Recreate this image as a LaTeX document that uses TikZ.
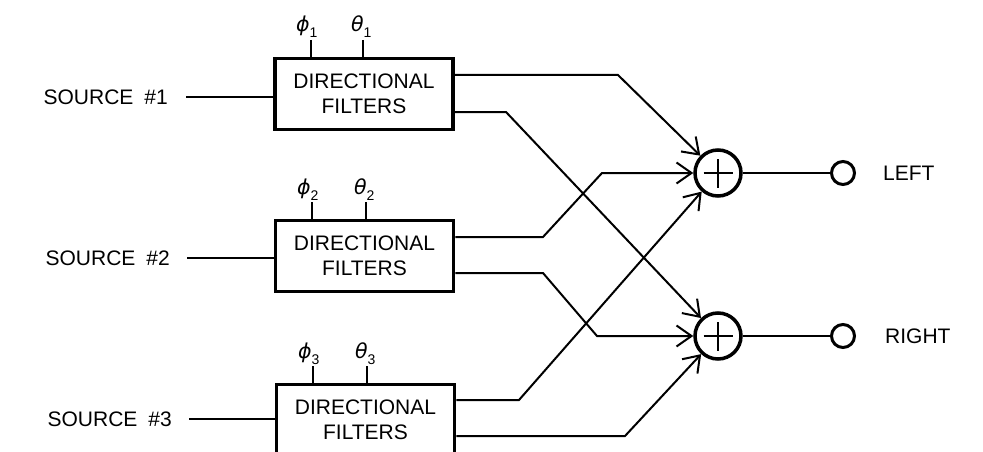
\documentclass[tikz,border=0pt]{standalone}
\usepackage{fontspec}
\setmainfont{Liberation Sans}
\newfontfamily\grk{DejaVu Sans}
\usetikzlibrary{arrows.meta}
\newcommand\anglbl[2]{{\grk\fontsize{20.5}{20.5}\selectfont\itshape #1}\raisebox{-6pt}{\fontsize{14}{14}\selectfont #2}}
\begin{document}
\begin{tikzpicture}[x=1pt,y=-1pt,
  box/.style={draw, line width=3.5pt, minimum width=178pt, minimum height=71pt, align=center, font=\fontsize{21}{25}\selectfont, inner sep=0pt},
  sumnode/.style={draw, circle, line width=3.5pt, minimum size=46pt, inner sep=0pt},
  port/.style={draw, circle, line width=3pt, minimum size=23pt, inner sep=0pt},
  lbl/.style={font=\fontsize{21}{25}\selectfont, inner sep=0pt},
  anglab/.style={inner sep=0pt, anchor=base west},
  conn/.style={line width=2pt},
  arr/.style={conn, -{Straight Barb[length=15pt,width=21pt]}},
  tickline/.style={line width=2pt},
  plusline/.style={line width=1.6pt}]
\useasboundingbox (0,0) rectangle (983,452);
\clip (0,0) rectangle (983,452);

% filter boxes
\node[box] (b1) at (364,94) {DIRECTIONAL\\FILTERS};
\node[box] (b2) at (364.5,256) {DIRECTIONAL\\FILTERS};
\node[box] (b3) at (365.5,420) {DIRECTIONAL\\FILTERS};

% sources
\node[lbl, anchor=east] (src1) at (168,97) {SOURCE\hspace{11pt}\#1};
\node[lbl, anchor=east] (src2) at (170,258) {SOURCE\hspace{11pt}\#2};
\node[lbl, anchor=east] (src3) at (172,419) {SOURCE\hspace{11pt}\#3};
\draw[conn] ([xshift=18pt]src1.east) -- (b1.west |- src1.east);
\draw[conn] ([xshift=17pt]src2.east) -- (b2.west |- src2.east);
\draw[conn] ([xshift=17pt]src3.east) -- (b3.west |- src3.east);

% angle inputs
\coordinate (p1) at (311,40);  \coordinate (q1) at (363,40);
\coordinate (p2) at (312,202); \coordinate (q2) at (366,202);
\coordinate (p3) at (313,366); \coordinate (q3) at (367,366);
\draw[tickline] (p1) -- (p1 |- b1.north);
\draw[tickline] (q1) -- (q1 |- b1.north);
\draw[tickline] (p2) -- (p2 |- b2.north);
\draw[tickline] (q2) -- (q2 |- b2.north);
\draw[tickline] (p3) -- (p3 |- b3.north);
\draw[tickline] (q3) -- (q3 |- b3.north);
\node[anglab] (lp1) at (296,32) {\anglbl{ϕ}{1}};
\node[anglab] (lq1) at (351,32) {\anglbl{θ}{1}};
\node[anglab] (lp2) at (297,194) {\anglbl{ϕ}{2}};
\node[anglab] (lq2) at (354,194) {\anglbl{θ}{2}};
\node[anglab] (lp3) at (298,358) {\anglbl{ϕ}{3}};
\node[anglab] (lq3) at (355,358) {\anglbl{θ}{3}};

% summers
\node[sumnode] (s1) at (718,173) {};
\node[sumnode] (s2) at (718,336) {};
\draw[plusline] ([xshift=-14.5pt]s1.center) -- ([xshift=14.5pt]s1.center);
\draw[plusline] ([yshift=-14.5pt]s1.center) -- ([yshift=14.5pt]s1.center);
\draw[plusline] ([xshift=-14.5pt]s2.center) -- ([xshift=14.5pt]s2.center);
\draw[plusline] ([yshift=-14.5pt]s2.center) -- ([yshift=14.5pt]s2.center);

% outputs
\node[port] (pl) at (843,173) {};
\node[port] (pr) at (843,336) {};
\draw[conn] (s1) -- (pl);
\draw[conn] (s2) -- (pr);
\node[lbl, anchor=west] (tl) at (883,173) {LEFT};
\node[lbl, anchor=west] (tr) at (885,336) {RIGHT};

% bends
\coordinate (k1a) at (618,75);
\coordinate (k1b) at (506,112);
\coordinate (k2a) at (543,237);
\coordinate (k2aa) at (602,173);
\coordinate (k2b) at (543,273);
\coordinate (k2bb) at (597,336);
\coordinate (k3a) at (519,400);
\coordinate (k3b) at (625,436);

\draw[arr] (b1.east |- k1a) -- (k1a) -- (s1);
\draw[arr] (b1.east |- k1b) -- (k1b) -- (s2);
\draw[arr] (b2.east |- k2a) -- (k2a) -- (k2aa) -- (s1);
\draw[arr] (b2.east |- k2b) -- (k2b) -- (k2bb) -- (s2);
\draw[arr] (b3.east |- k3a) -- (k3a) -- (s1);
\draw[arr] (b3.east |- k3b) -- (k3b) -- (s2);
\end{tikzpicture}
\end{document}
